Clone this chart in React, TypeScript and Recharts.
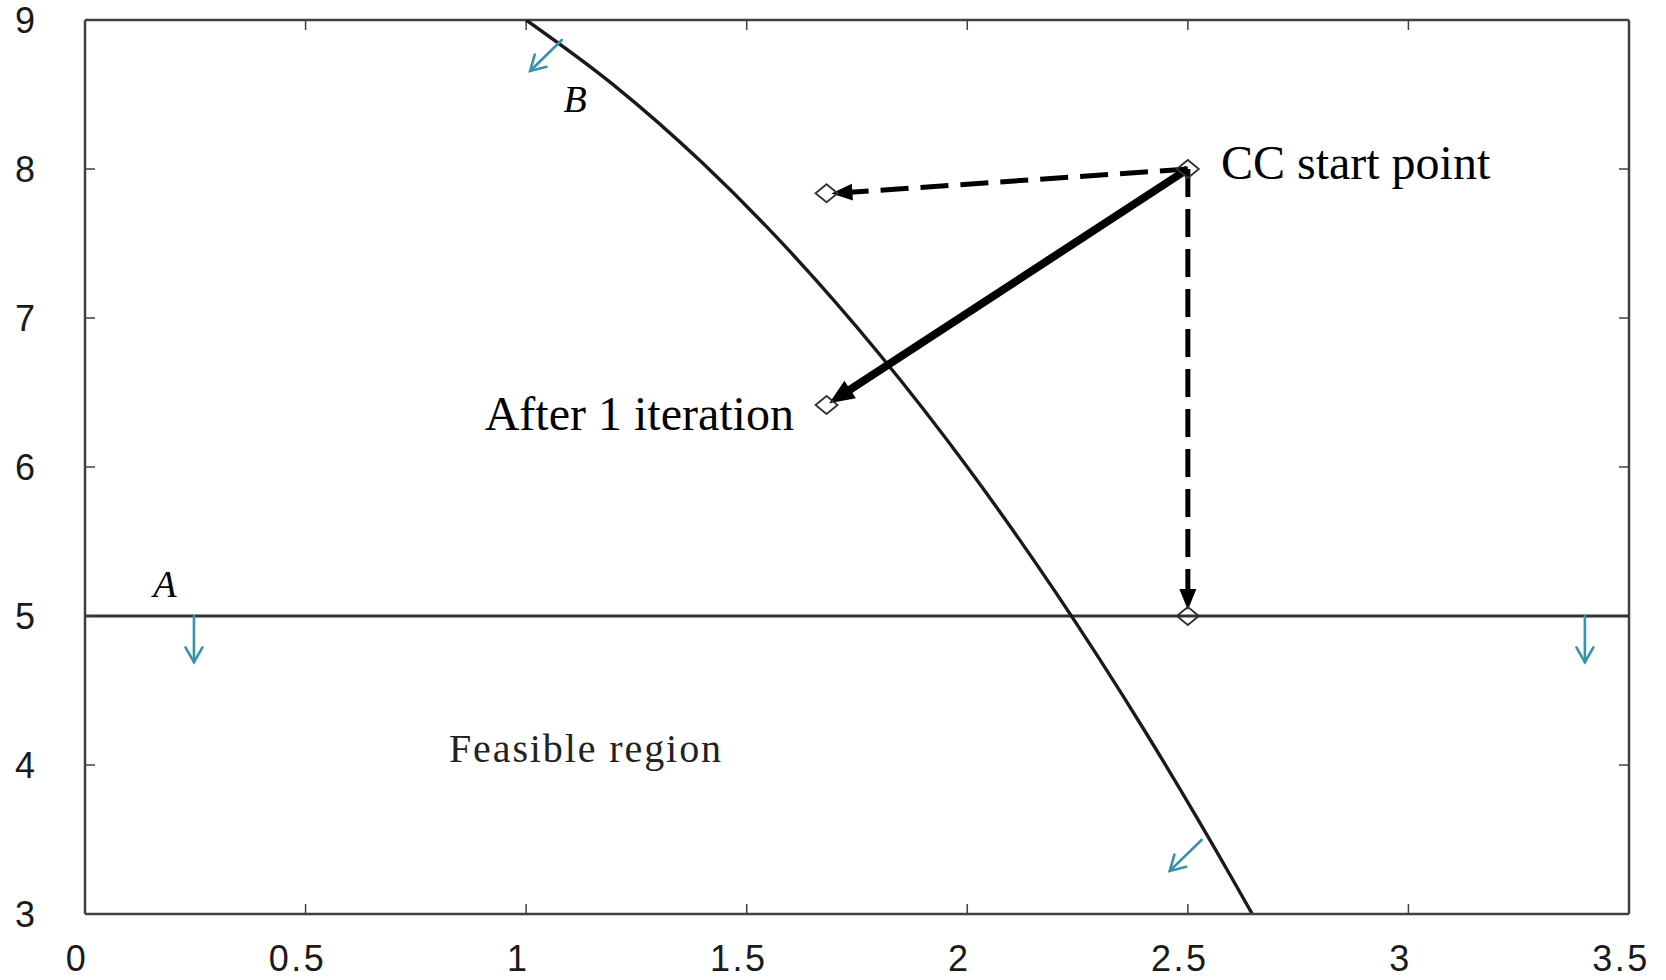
import React from 'react';
import {
  ComposedChart,
  Line,
  XAxis,
  YAxis,
  ReferenceLine,
  ReferenceDot,
} from 'recharts';

// axes
const xTicks = [0, 0.5, 1, 1.5, 2, 2.5, 3, 3.5];
const yTicks = [3, 4, 5, 6, 7, 8, 9];

// constraint B (curved boundary)
const curveB = [
  { x: 1.0, y: 9.0 },
  { x: 1.2, y: 8.56 },
  { x: 1.4, y: 8.04 },
  { x: 1.6, y: 7.44 },
  { x: 1.8, y: 6.76 },
  { x: 2.0, y: 6.0 },
  { x: 2.2, y: 5.16 },
  { x: 2.4, y: 4.24 },
  { x: 2.6, y: 3.24 },
  { x: 2.646, y: 3.0 },
];

// constraint A (horizontal boundary)
const lineA = [
  { x: 0, y: 5 },
  { x: 3.5, y: 5 },
];

// diamonds: start point and the trial points
const trialPoints = [
  { x: 2.5, y: 8 },
  { x: 1.681, y: 7.837 },
  { x: 1.681, y: 6.416 },
  { x: 2.5, y: 5 },
];

// black search arrows
const searchArrows = [
  { from: [2.5, 8], to: [1.692, 7.835], dashed: true },
  { from: [2.5, 8], to: [2.5, 5.04], dashed: true },
  { from: [2.5, 8], to: [1.687, 6.428], dashed: false },
];

// teal arrows pointing into the feasible side
const feasibleArrows = [
  { from: [1.081, 8.866], to: [1.009, 8.658] },
  { from: [2.531, 3.497], to: [2.459, 3.289] },
  { from: [0.247, 5.0], to: [0.247, 4.69] },
  { from: [3.4, 5.0], to: [3.4, 4.69] },
];

// text notes
const notes = [
  { text: 'CC start point', x: 2.575, y: 7.933, anchor: 'start', size: 48, italic: false, spacing: 0 },
  { text: 'After 1 iteration', x: 1.607, y: 6.248, anchor: 'end', size: 48, italic: false, spacing: 0 },
  { text: 'Feasible region', x: 0.825, y: 4.02, anchor: 'start', size: 40, italic: false, spacing: 1.9 },
  { text: 'A', x: 0.181, y: 5.128, anchor: 'middle', size: 38, italic: true, spacing: 0 },
  { text: 'B', x: 1.111, y: 8.383, anchor: 'middle', size: 38, italic: true, spacing: 0 },
];

const TEAL = '#3793a9';
const AXIS = '#404040';
const SERIF = '"Liberation Serif", "Times New Roman", serif';
const SANS = '"Liberation Sans", Arial, sans-serif';

function blackArrow(dashed: boolean) {
  return (p: any) => {
    const { x1, y1, x2, y2 } = p;
    const len = Math.hypot(x2 - x1, y2 - y1) || 1;
    const ux = (x2 - x1) / len;
    const uy = (y2 - y1) / len;
    const head = dashed ? 21 : 25;
    const half = dashed ? 8.5 : 10.5;
    const bx = x2 - ux * head;
    const by = y2 - uy * head;
    const pts = `${x2},${y2} ${bx - uy * half},${by + ux * half} ${bx + uy * half},${by - ux * half}`;
    return (
      <g>
        <line
          x1={x1}
          y1={y1}
          x2={bx + ux * 2}
          y2={by + uy * 2}
          stroke="#000"
          strokeWidth={dashed ? 5 : 8}
          strokeDasharray={dashed ? '28 12' : undefined}
        />
        <polygon points={pts} fill="#000" />
      </g>
    );
  };
}

function tealArrow(p: any) {
  const { x1, y1, x2, y2 } = p;
  const len = Math.hypot(x2 - x1, y2 - y1) || 1;
  const ux = (x2 - x1) / len;
  const uy = (y2 - y1) / len;
  const h = 17;
  const a = Math.PI / 6;
  const c = Math.cos(a);
  const s = Math.sin(a);
  const lx = x2 - h * (ux * c - uy * s);
  const ly = y2 - h * (uy * c + ux * s);
  const rx = x2 - h * (ux * c + uy * s);
  const ry = y2 - h * (uy * c - ux * s);
  return (
    <g stroke={TEAL} strokeWidth={2.6} fill="none" strokeLinecap="round">
      <line x1={x1} y1={y1} x2={x2} y2={y2} />
      <polyline points={`${lx},${ly} ${x2},${y2} ${rx},${ry}`} />
    </g>
  );
}

// box frame: top and right border with inward ticks
function topTick(p: any) {
  const top = Math.min(p.y1, p.y2);
  return <line x1={p.x1} y1={top} x2={p.x1} y2={top + 10} stroke={AXIS} strokeWidth={1.5} />;
}
function rightTick(p: any) {
  const right = Math.max(p.x1, p.x2);
  return <line x1={right - 10} y1={p.y1} x2={right} y2={p.y1} stroke={AXIS} strokeWidth={1.5} />;
}

function diamond(p: any) {
  const { cx, cy } = p;
  return (
    <polygon
      points={`${cx - 11},${cy} ${cx},${cy - 9} ${cx + 11},${cy} ${cx},${cy + 9}`}
      fill="none"
      stroke="#333"
      strokeWidth={1.8}
    />
  );
}

function note(n: (typeof notes)[number]) {
  return (p: any) => (
    <text
      x={p.cx}
      y={p.cy}
      textAnchor={n.anchor as any}
      fontFamily={SERIF}
      fontSize={n.size}
      fontStyle={n.italic ? 'italic' : 'normal'}
      letterSpacing={n.spacing}
      fill={n.text === 'Feasible region' ? '#222' : '#000'}
    >
      {n.text}
    </text>
  );
}

const tickStyle = { fontFamily: SANS, fontSize: 36, fill: '#1a1a1a' };

export default function App() {
  return (
    <div style={{ position: 'absolute', left: 0, top: 0, width: 1666, height: 980, background: '#fff' }}>
      <ComposedChart
        width={1666}
        height={980}
        margin={{ top: 20, right: 37, bottom: 0, left: 0 }}
      >
        <XAxis
          dataKey="x"
          type="number"
          domain={[0, 3.5]}
          ticks={xTicks}
          interval={0}
          allowDataOverflow
          height={66}
          tickSize={-10}
          tickMargin={41}
          tick={{ ...tickStyle, dx: -8, letterSpacing: 2.5 }}
          axisLine={{ stroke: AXIS, strokeWidth: 2.5 }}
          tickLine={{ stroke: AXIS, strokeWidth: 1.5 }}
        />
        <YAxis
          type="number"
          domain={[3, 9]}
          ticks={yTicks}
          interval={0}
          allowDataOverflow
          width={85}
          tickSize={-10}
          tickMargin={60}
          tick={tickStyle}
          axisLine={{ stroke: AXIS, strokeWidth: 2.5 }}
          tickLine={{ stroke: AXIS, strokeWidth: 1.5 }}
        />

        <ReferenceLine y={9} stroke={AXIS} strokeWidth={2.5} ifOverflow="visible" />
        <ReferenceLine x={3.5} stroke={AXIS} strokeWidth={2.5} ifOverflow="visible" />
        {xTicks.slice(1, -1).map((t) => (
          <ReferenceLine key={`tt${t}`} x={t} shape={topTick} />
        ))}
        {yTicks.slice(1, -1).map((t) => (
          <ReferenceLine key={`rt${t}`} y={t} shape={rightTick} />
        ))}

        <Line
          data={lineA}
          dataKey="y"
          type="linear"
          stroke="#333"
          strokeWidth={3}
          dot={false}
          isAnimationActive={false}
        />
        <Line
          data={curveB}
          dataKey="y"
          type="monotone"
          stroke="#1a1a1a"
          strokeWidth={3.4}
          dot={false}
          isAnimationActive={false}
        />

        {feasibleArrows.map((a, i) => (
          <ReferenceLine
            key={`f${i}`}
            segment={[
              { x: a.from[0], y: a.from[1] },
              { x: a.to[0], y: a.to[1] },
            ]}
            shape={tealArrow}
          />
        ))}

        {trialPoints.map((d, i) => (
          <ReferenceDot key={`d${i}`} x={d.x} y={d.y} shape={diamond} />
        ))}

        {searchArrows.map((a, i) => (
          <ReferenceLine
            key={`s${i}`}
            segment={[
              { x: a.from[0], y: a.from[1] },
              { x: a.to[0], y: a.to[1] },
            ]}
            shape={blackArrow(a.dashed)}
          />
        ))}

        {notes.map((n, i) => (
          <ReferenceDot key={`n${i}`} x={n.x} y={n.y} shape={note(n)} />
        ))}
      </ComposedChart>
    </div>
  );
}
